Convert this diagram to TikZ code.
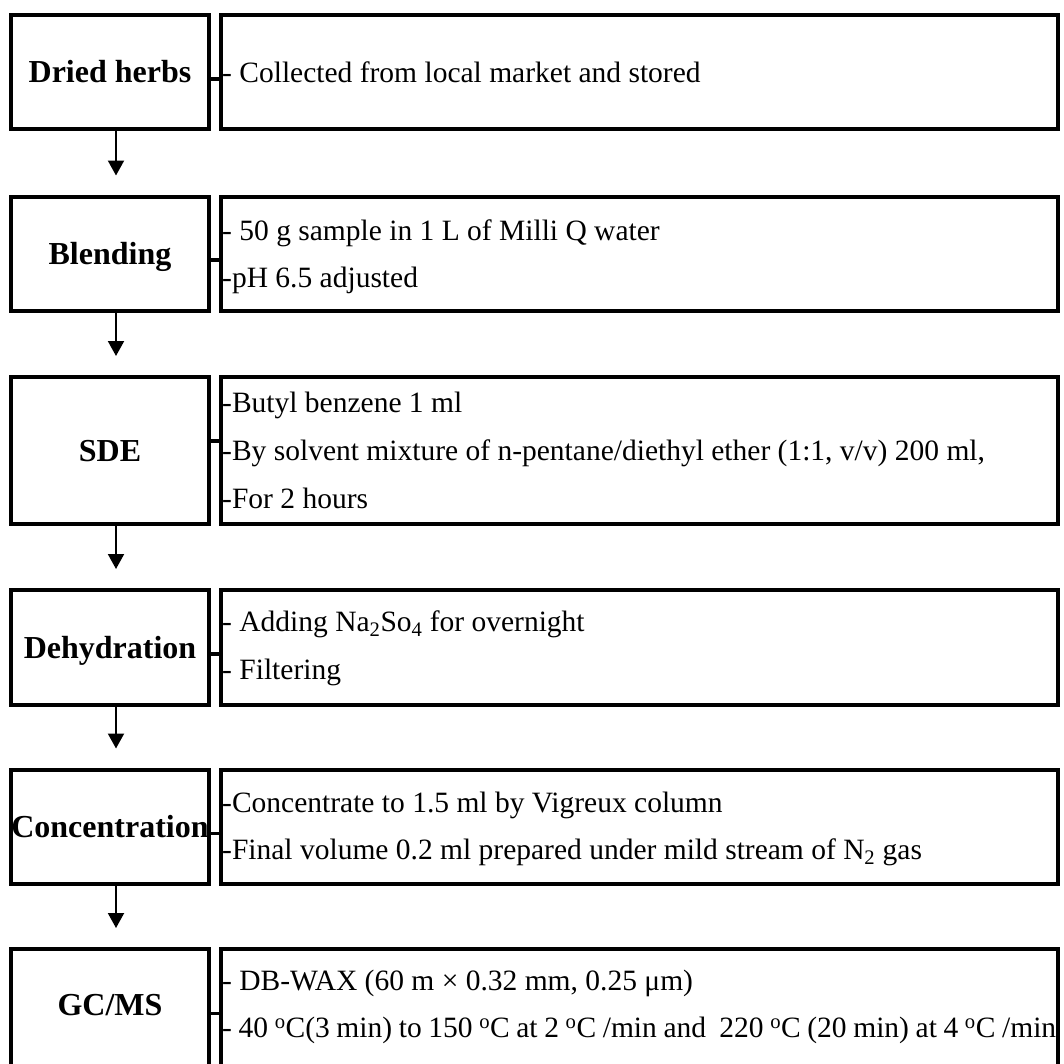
\documentclass[tikz,border=0pt]{standalone}
\usepackage{fontspec}
\setmainfont{Liberation Serif}
\usetikzlibrary{arrows.meta}
\newcommand{\dgr}{\textsuperscript{o}}
\begin{document}
\begin{tikzpicture}[x=1pt,y=-1pt,
  box/.style={draw,line width=4pt,inner sep=0pt},
  lbox/.style={box,minimum width=198pt},
  rbox/.style={box,minimum width=837pt},
  lbl/.style={font=\fontsize{32}{38}\selectfont\bfseries,inner sep=0pt,anchor=base},
  txt/.style={font=\fontsize{29.5}{36}\selectfont,inner sep=0pt,anchor=base west},
  link/.style={line width=3.5pt},
  flow/.style={line width=2pt,-{Triangle[width=16pt,length=15pt]},shorten >=19pt}
]
\useasboundingbox (0,0) rectangle (1064,1063);
\clip (0,0) rectangle (1064,1063);

% left boxes
\node[lbox,minimum height=114pt] (l1) at (110,72) {};
\node[lbox,minimum height=114pt] (l2) at (110,253.5) {};
\node[lbox,minimum height=147pt] (l3) at (110,450.5) {};
\node[lbox,minimum height=115pt] (l4) at (110,647.5) {};
\node[lbox,minimum height=114pt] (l5) at (110,826.5) {};
\node[lbox,minimum height=119pt] (l6) at (110,1008.5) {};

% right boxes
\node[rbox,minimum height=114pt] (r1) at (639.5,72) {};
\node[rbox,minimum height=114pt] (r2) at (639.5,253.5) {};
\node[rbox,minimum height=147pt] (r3) at (639.5,450.5) {};
\node[rbox,minimum height=115pt] (r4) at (639.5,647.5) {};
\node[rbox,minimum height=114pt] (r5) at (639.5,826.5) {};
\node[rbox,minimum height=119pt] (r6) at (639.5,1008.5) {};

% labels
\node[lbl] (t1) at (110,82.7) {Dried herbs};
\node[lbl] (t2) at (110,264.2) {Blending};
\node[lbl] (t3) at (110,461.2) {SDE};
\node[lbl] (t4) at (110,658.2) {Dehydration};
\node[lbl] (t5) at (110,837.2) {Concentration};
\node[lbl] (t6) at (110,1015) {GC/MS};

% side connectors
\draw[link] ([yshift=-7pt]l1.east) -- ([yshift=-7pt]r1.west);
\draw[link] ([yshift=-6.5pt]l2.east) -- ([yshift=-6.5pt]r2.west);
\draw[link] ([yshift=9.5pt]l3.east) -- ([yshift=9.5pt]r3.west);
\draw[link] ([yshift=-6.5pt]l4.east) -- ([yshift=-6.5pt]r4.west);
\draw[link] ([yshift=-7pt]l5.east) -- ([yshift=-7pt]r5.west);
\draw[link] ([yshift=-5pt]l6.east) -- ([yshift=-5pt]r6.west);

% flow arrows
\draw[flow] ([xshift=6pt]l1.south) -- ([xshift=6pt]l2.north);
\draw[flow] ([xshift=6pt]l2.south) -- ([xshift=6pt]l3.north);
\draw[flow] ([xshift=6pt]l3.south) -- ([xshift=6pt]l4.north);
\draw[flow] ([xshift=6pt]l4.south) -- ([xshift=6pt]l5.north);
\draw[flow] ([xshift=6pt]l5.south) -- ([xshift=6pt]l6.north);

% texts
\node[txt] (a1) at (222,82.5) {- Collected from local market and stored};
\node[txt] (b1) at (222,240) {- 50 g sample in 1 L of Milli Q water};
\node[txt] (b2) at (222,287) {-pH 6.5 adjusted};
\node[txt] (c1) at (222,412) {-Butyl benzene 1 ml};
\node[txt] (c2) at (222,460) {-By solvent mixture of n-pentane/diethyl ether (1:1, v/v) 200 ml,};
\node[txt] (c3) at (222,508) {-For 2 hours};
\node[txt] (d1) at (222,631.5) {- Adding Na\textsubscript{2}So\textsubscript{4} for overnight};
\node[txt] (d2) at (222,679) {- Filtering};
\node[txt] (e1) at (222,812) {-Concentrate to 1.5 ml by Vigreux column};
\node[txt] (e2) at (222,859.3) {-Final volume 0.2 ml prepared under mild stream of N\textsubscript{2} gas};
\node[txt] (f1) at (222,990) {- DB-WAX (60 m × 0.32 mm, 0.25 μm)};
\node[txt] (f2) at (222,1037.3) {\makebox[834pt][s]{- 40 \dgr C(3 min) to 150 \dgr C at 2 \dgr C /min and\ \ 220 \dgr C (20 min) at 4 \dgr C /min}};
\end{tikzpicture}
\end{document}
